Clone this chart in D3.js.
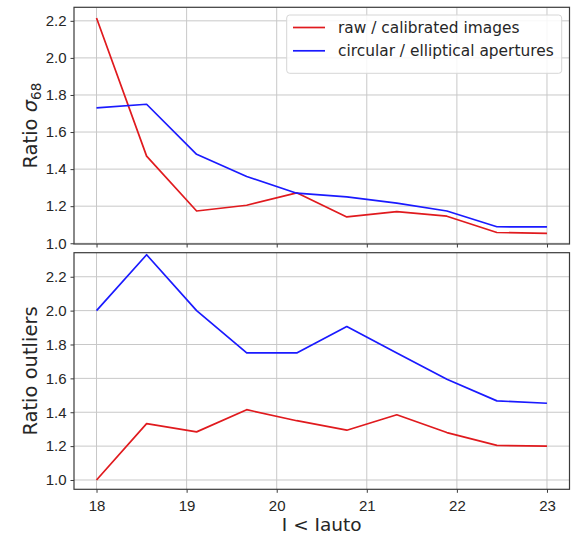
<!DOCTYPE html>
<html>
<head>
<meta charset="utf-8">
<script src="https://cdn.jsdelivr.net/npm/d3@7"></script>
<style>
  html, body { margin: 0; padding: 0; background: #fff; }
  svg { display: block; font-family: "DejaVu Sans", sans-serif; }
</style>
</head>
<body>
<svg id="chart" width="579" height="536"></svg>
<script>
// ---- data ----
const xValues = [18, 18.556, 19.111, 19.667, 20.222, 20.778, 21.333, 21.889, 22.444, 23];
const sigmaRaw = [2.215, 1.47, 1.174, 1.205, 1.272, 1.142, 1.171, 1.146, 1.058, 1.053];
const sigmaAper = [1.73, 1.75, 1.48, 1.36, 1.27, 1.25, 1.217, 1.174, 1.089, 1.088];
const outRaw = [1.0, 1.333, 1.284, 1.415, 1.35, 1.294, 1.385, 1.28, 1.204, 1.2];
const outAper = [2.0, 2.33, 2.0, 1.75, 1.75, 1.906, 1.75, 1.595, 1.467, 1.453];
const xTicks = [18, 19, 20, 21, 22, 23];
const yTicks = [1.0, 1.2, 1.4, 1.6, 1.8, 2.0, 2.2];
const seriesNames = ["raw / calibrated images", "circular / elliptical apertures"];
const seriesColors = ["#e01a1e", "#1a1aff"];
const xLabel = "I < Iauto";

// ---- layout ----
const svg = d3.select("#chart");
const L = 74, R = 569.5;
const x = d3.scaleLinear().domain([17.75, 23.25]).range([L, R]);
const panels = [
  { top: 7.3, bottom: 244, domain: [0.996, 2.273], series: [sigmaRaw, sigmaAper], label: "sigma" },
  { top: 252.7, bottom: 489.3, domain: [0.945, 2.342], series: [outRaw, outAper], label: "Ratio outliers" }
];
const gridColor = "#c8c8c8";
const frameColor = "#3a3a3a";
const textColor = "#262626";

panels.forEach((p, pi) => {
  const y = d3.scaleLinear().domain(p.domain).range([p.bottom, p.top]);
  const g = svg.append("g");
  // gridlines
  g.selectAll("line.gx").data(xTicks).enter().append("line")
    .attr("x1", d => x(d)).attr("x2", d => x(d))
    .attr("y1", p.top).attr("y2", p.bottom)
    .attr("stroke", gridColor).attr("stroke-width", 1);
  g.selectAll("line.gy").data(yTicks).enter().append("line")
    .attr("x1", L).attr("x2", R)
    .attr("y1", d => y(d)).attr("y2", d => y(d))
    .attr("stroke", gridColor).attr("stroke-width", 1);

  // series lines
  const line = d3.line().x((d, i) => x(xValues[i])).y(d => y(d));
  p.series.forEach((s, si) => {
    g.append("path").datum(s)
      .attr("d", line)
      .attr("fill", "none")
      .attr("stroke", seriesColors[si])
      .attr("stroke-width", 1.7)
      .attr("stroke-linejoin", "round");
  });

  // axes
  const yAxis = d3.axisLeft(y).tickValues(yTicks).tickFormat(d3.format(".1f")).tickSize(3.5).tickPadding(4);
  const ya = g.append("g").attr("transform", `translate(${L},0)`).call(yAxis);
  const xAxis = d3.axisBottom(x).tickValues(xTicks).tickFormat(pi === 1 ? d3.format("d") : () => "").tickSize(3.5).tickPadding(4);
  const xa = g.append("g").attr("transform", `translate(0,${p.bottom})`).call(xAxis);
  [ya, xa].forEach(a => {
    a.select(".domain").remove();
    a.selectAll(".tick line").attr("stroke", frameColor).attr("stroke-width", 1);
    a.selectAll(".tick text").attr("fill", textColor).style("font-size", "15px");
  });
  xa.selectAll(".tick text").attr("dy", "0.95em");

  // frame
  g.append("rect")
    .attr("x", L).attr("y", p.top)
    .attr("width", R - L).attr("height", p.bottom - p.top)
    .attr("fill", "none").attr("stroke", frameColor).attr("stroke-width", 1.2);

  // y label
  const cy = (p.top + p.bottom) / 2;
  const t = g.append("text")
    .attr("transform", `translate(37,${cy}) rotate(-90)`)
    .attr("text-anchor", "middle")
    .attr("fill", textColor)
    .style("font-size", "19.5px");
  if (p.label === "sigma") {
    t.append("tspan").text("Ratio ");
    t.append("tspan").text("σ").style("font-style", "italic");
    t.append("tspan").text("68").attr("dy", "4").style("font-size", "13.5px");
  } else {
    t.text(p.label);
  }
});

// x label
svg.append("text")
  .attr("x", (L + R) / 2).attr("y", 531)
  .attr("text-anchor", "middle")
  .attr("fill", textColor)
  .style("font-size", "18.5px")
  .text(xLabel);

// legend
const lg = svg.append("g");
lg.append("rect")
  .attr("x", 286.7).attr("y", 15).attr("width", 275).attr("height", 58.3)
  .attr("rx", 3).attr("fill", "white").attr("fill-opacity", 0.85)
  .attr("stroke", "#d6d6d6").attr("stroke-width", 1);
seriesNames.forEach((name, i) => {
  const yy = 27.5 + i * 23.3;
  lg.append("line")
    .attr("x1", 293).attr("x2", 325)
    .attr("y1", yy).attr("y2", yy)
    .attr("stroke", seriesColors[i]).attr("stroke-width", 1.7);
  lg.append("text")
    .attr("x", 338).attr("y", yy + 5.5)
    .attr("fill", textColor)
    .style("font-size", "15.4px")
    .text(name);
});
</script>
</body>
</html>
